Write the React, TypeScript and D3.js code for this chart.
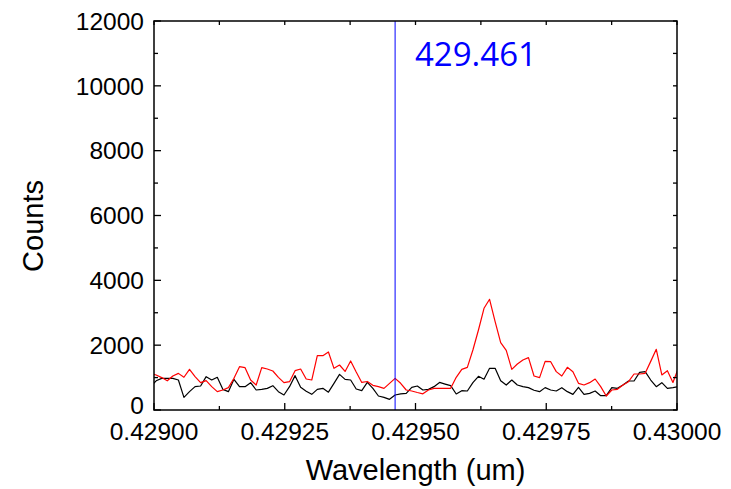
import React from "react";
import * as d3 from "d3";

// Spectrometer sampling grid (um)
const wlStart = 0.4289935;
const wlStep = 0.000010625;

// Counts, red trace
const redCounts = [
  1130, 1080, 1000, 900, 1050, 1130, 1010, 1255, 1030, 845,
  905, 720, 566, 617, 690, 977, 1337, 1306, 925, 770,
  1306, 1265, 1203, 1008, 843, 874, 1213, 1265, 956, 925,
  1676, 1676, 1790, 1285, 1388, 1190, 1512, 1170, 850, 880,
  760, 720, 668, 823, 977, 823, 617, 586, 540, 500,
  617, 668, 668, 668, 668, 1008, 1255, 1316, 1851, 2468,
  3137, 3415, 2725, 2077, 1840, 1255, 1419, 1543, 1615, 1049,
  1000, 1500, 1491, 1183, 1049, 1316, 1183, 823, 771, 843,
  956, 720, 432, 617, 638, 771, 874, 1110, 1110, 1131,
  1500, 1872, 1080, 1213, 850, 1300,
];

// Counts, black trace
const blackCounts = [
  720, 900, 977, 977, 977, 925, 391, 566, 720, 740,
  1028, 925, 1008, 637, 566, 946, 720, 720, 843, 617,
  637, 668, 750, 566, 463, 720, 1060, 699, 580, 483,
  637, 668, 550, 823, 1100, 946, 925, 648, 600, 853,
  668, 432, 391, 329, 463, 500, 514, 700, 740, 617,
  637, 720, 850, 800, 750, 494, 596, 586, 843, 1040,
  950, 1285, 1285, 905, 771, 925, 771, 720, 689, 610,
  566, 690, 617, 586, 689, 566, 483, 699, 483, 514,
  586, 442, 442, 689, 668, 771, 895, 895, 1162, 1183,
  925, 720, 843, 668, 689, 720,
];

const wavelengths = redCounts.map((_, i) => wlStart + i * wlStep);

const xDomain: [number, number] = [0.429, 0.43];
const yDomain: [number, number] = [0, 12000];
const xMajorTicks = [0.429, 0.42925, 0.4295, 0.42975, 0.43];
const xMinorTicks = [0.429125, 0.429375, 0.429625, 0.429875];
const yMajorTicks = [0, 2000, 4000, 6000, 8000, 10000, 12000];
const yMinorTicks = [1000, 3000, 5000, 7000, 9000, 11000];

const markerNm = 429.461;
const markerLabel = "429.461";

const W = 731;
const H = 489;
const left = 154;
const right = 677;
const top = 21;
const bottom = 410;

export default function App() {
  const x = d3.scaleLinear().domain(xDomain).range([left, right]);
  const y = d3.scaleLinear().domain(yDomain).range([bottom, top]);

  const line = d3
    .line<number>()
    .x((_, i) => x(wavelengths[i]))
    .y((d) => y(d));

  const tickFont = "'Liberation Sans', Arial, sans-serif";
  const markerX = x(markerNm / 1000);

  return (
    <svg
      width={W}
      height={H}
      style={{ position: "absolute", left: 0, top: 0, background: "#fff" }}
    >
      <defs>
        <clipPath id="plotClip">
          <rect x={left} y={top} width={right - left} height={bottom - top} />
        </clipPath>
      </defs>

      <g clipPath="url(#plotClip)">
        <path d={line(blackCounts) ?? ""} fill="none" stroke="#000" strokeWidth={1.2} strokeLinejoin="round" />
        <path d={line(redCounts) ?? ""} fill="none" stroke="#ff0000" strokeWidth={1.2} strokeLinejoin="round" />
        <line x1={markerX} x2={markerX} y1={top} y2={bottom} stroke="#0000ff" strokeWidth={1} />
      </g>

      <text
        x={415}
        y={66}
        fill="#0000ff"
        fontFamily="'Open Sans', sans-serif"
        fontSize={33}
      >
        {markerLabel}
      </text>

      {/* frame */}
      <rect x={left} y={top} width={right - left} height={bottom - top} fill="none" stroke="#000" strokeWidth={1.5} />

      {/* bottom / top ticks */}
      {xMajorTicks.map((t) => (
        <g key={`xm${t}`}>
          <line x1={x(t)} x2={x(t)} y1={bottom} y2={bottom - 7} stroke="#000" strokeWidth={1.3} />
          <line x1={x(t)} x2={x(t)} y1={top} y2={top + 4} stroke="#000" strokeWidth={1.3} />
          <text
            x={x(t)}
            y={440}
            textAnchor="middle"
            fontFamily={tickFont}
            fontSize={24.5}
            fill="#000"
          >
            {t.toFixed(5)}
          </text>
        </g>
      ))}
      {xMinorTicks.map((t) => (
        <g key={`xn${t}`}>
          <line x1={x(t)} x2={x(t)} y1={bottom} y2={bottom - 4} stroke="#000" strokeWidth={1.3} />
          <line x1={x(t)} x2={x(t)} y1={top} y2={top + 4} stroke="#000" strokeWidth={1.3} />
        </g>
      ))}

      {/* left / right ticks */}
      {yMajorTicks.map((t) => (
        <g key={`ym${t}`}>
          <line x1={left} x2={left + 7} y1={y(t)} y2={y(t)} stroke="#000" strokeWidth={1.3} />
          <line x1={right} x2={right - 4} y1={y(t)} y2={y(t)} stroke="#000" strokeWidth={1.3} />
          <text
            x={144}
            y={t === 0 ? y(t) - 5 : y(t)}
            dy="0.36em"
            textAnchor="end"
            fontFamily={tickFont}
            fontSize={24.5}
            fill="#000"
          >
            {t}
          </text>
        </g>
      ))}
      {yMinorTicks.map((t) => (
        <g key={`yn${t}`}>
          <line x1={left} x2={left + 4} y1={y(t)} y2={y(t)} stroke="#000" strokeWidth={1.3} />
          <line x1={right} x2={right - 4} y1={y(t)} y2={y(t)} stroke="#000" strokeWidth={1.3} />
        </g>
      ))}

      {/* axis titles */}
      <text
        x={415.5}
        y={480}
        textAnchor="middle"
        fontFamily={tickFont}
        fontSize={29}
        fill="#000"
      >
        Wavelength (um)
      </text>
      <text
        transform="translate(43,226) rotate(-90)"
        textAnchor="middle"
        fontFamily={tickFont}
        fontSize={29}
        fill="#000"
      >
        Counts
      </text>
    </svg>
  );
}
